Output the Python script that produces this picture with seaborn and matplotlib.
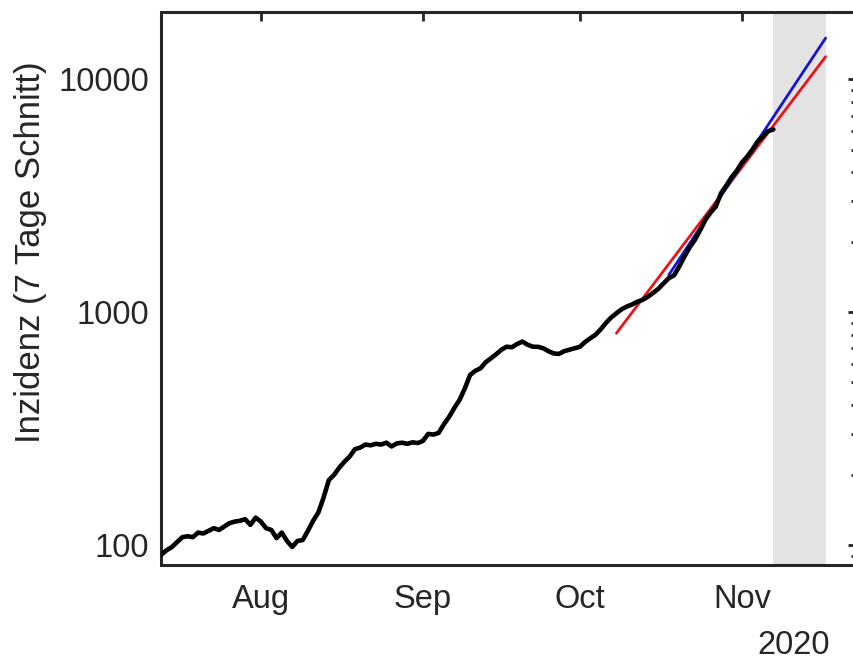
import matplotlib
matplotlib.use("Agg")
import matplotlib.pyplot as plt
import matplotlib.dates as mdates
from matplotlib.ticker import LogLocator, NullFormatter, FixedLocator, FixedFormatter
import seaborn as sns
import pandas as pd

# ---------------- data ----------------
start_date = "2020-07-13"
incidence = [
    91, 95, 98, 103, 108, 109, 108, 113, 112, 115, 118, 116, 120, 124, 126, 127, 129, 122, 131,  # Jul 13-31
    126, 118, 116, 107, 113, 104, 98, 104, 105, 115, 127, 138, 160, 190, 200, 215, 228, 240, 258,
    262, 270, 268, 272, 270, 275, 265, 273, 275, 272, 276, 274,                                    # Aug
    280, 300, 298, 303, 330, 355, 388, 420, 470, 537, 560, 574, 610, 634, 660, 690, 711, 707, 730,
    748, 725, 711, 710, 700, 680, 665, 662, 680, 690, 700,                                         # Sep
    710, 745, 773, 800, 845, 900, 950, 990, 1030, 1058, 1080, 1110, 1130, 1165, 1210, 1260, 1330,
    1400, 1440, 1571, 1735, 1900, 2047, 2250, 2495, 2680, 2846, 3246, 3500, 3800, 4050,            # Oct
    4400, 4662, 5000, 5412, 5700, 6000, 6100,                                                      # Nov 1-7
]
fit_red_dates = ["2020-10-08", "2020-11-17"]
fit_red_values = [813, 12530]
fit_blue_dates = ["2020-10-18", "2020-11-17"]
fit_blue_values = [1445, 15070]
forecast_span = ["2020-11-07", "2020-11-17"]
x_limits = ["2020-07-13", "2020-11-23"]
y_limits = [82, 19500]
y_ticks = [100, 1000, 10000]
y_ticklabels = ["100", "1000", "10000"]
y_label = "Inzidenz (7 Tage Schnitt)"
year_label = "2020"

dates = pd.date_range(start_date, periods=len(incidence), freq="D")
df = pd.DataFrame({"date": dates, "value": incidence})
df_red = pd.DataFrame({"date": pd.to_datetime(fit_red_dates), "value": fit_red_values})
df_blue = pd.DataFrame({"date": pd.to_datetime(fit_blue_dates), "value": fit_blue_values})

# ---------------- style ----------------
sns.set_style("white")
plt.rcParams["font.family"] = ["Liberation Sans", "DejaVu Sans"]
dark = "#262626"
fs = 23.5

fig = plt.figure(figsize=(8.54, 6.62), dpi=100)
ax = fig.add_axes([161.5 / 854, 1 - 565 / 662, (857 - 161.5) / 854, (565 - 12) / 662])

ax.axvspan(pd.Timestamp(forecast_span[0]), pd.Timestamp(forecast_span[1]),
           color="#e3e3e3", lw=0, zorder=0)

sns.lineplot(data=df_red, x="date", y="value", color="#e8141a", lw=2.0, ax=ax, zorder=2)
sns.lineplot(data=df_blue, x="date", y="value", color="#1414d2", lw=2.0, ax=ax, zorder=3)
sns.lineplot(data=df, x="date", y="value", color="black", lw=3.3, ax=ax, zorder=4)

ax.set_yscale("log")
ax.set_ylim(*y_limits)
ax.set_xlim(pd.Timestamp(x_limits[0]), pd.Timestamp(x_limits[1]))

ax.yaxis.set_major_locator(FixedLocator(y_ticks))
ax.yaxis.set_major_formatter(FixedFormatter(y_ticklabels))
ax.yaxis.set_minor_locator(LogLocator(base=10, subs=range(2, 10)))
ax.yaxis.set_minor_formatter(NullFormatter())

ax.xaxis.set_major_locator(mdates.MonthLocator(bymonth=[8, 9, 10, 11]))
ax.xaxis.set_major_formatter(mdates.DateFormatter("%b"))

for s in ax.spines.values():
    s.set_visible(True)
    s.set_color(dark)
    s.set_linewidth(2.2)

ax.tick_params(which="both", direction="in", color=dark, top=True, right=True,
               labelright=False, labeltop=False, width=2)
ax.tick_params(which="major", length=6.5, labelsize=fs, labelcolor=dark)
ax.tick_params(which="minor", length=4)
ax.tick_params(axis="y", which="major", pad=9)
ax.tick_params(axis="x", which="major", pad=14)

ax.set_xlabel("")
ax.set_ylabel(y_label, fontsize=25, color=dark)
ax.yaxis.label.set_va("center")
ax.yaxis.set_label_coords((30 - 161.5) / 695.5, (565 - 252) / 553)

ax.text(830 / 854, 1 / 662, year_label, transform=fig.transFigure,
        ha="right", va="bottom", fontsize=fs, color=dark)

fig.savefig("out.png", dpi=100)
